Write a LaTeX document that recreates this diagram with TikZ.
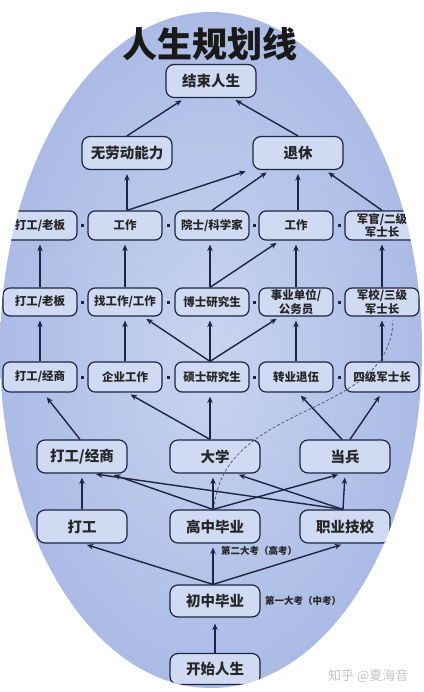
\documentclass[tikz,border=0pt]{standalone}
\usepackage{fontspec}
\newfontfamily\cjk{Noto Sans CJK SC}
\usetikzlibrary{arrows.meta,calc}
\definecolor{navy}{HTML}{1C2543}
\definecolor{boxfill}{HTML}{D0DBF3}
\definecolor{bgin}{HTML}{C8D4F0}
\definecolor{bgout}{HTML}{ABBBE5}
\definecolor{wm}{HTML}{C4C4C4}
\begin{document}
\begin{tikzpicture}[x=1pt,y=-1pt,
  bigbox/.style={draw=navy, line width=1.2pt, rounded corners=8pt, fill=boxfill,
    minimum width=90pt, minimum height=33pt, inner sep=1pt, text=black!85,
    font=\cjk\bfseries\fontsize{14.5}{16}\selectfont},
  smallbox/.style={draw=navy, line width=1.2pt, rounded corners=7pt, fill=boxfill,
    minimum width=74pt, minimum height=29pt, inner sep=1pt, align=center, text=black!85,
    font=\cjk\bfseries\fontsize{11.5}{13.5}\selectfont},
  dotsq/.style={fill=navy, minimum size=3pt, inner sep=0pt},
  arr/.style={-{Stealth[length=6.5pt,width=5.5pt]}, line width=1.4pt, draw=navy, shorten >=4pt},
  lbl/.style={font=\cjk\bfseries\fontsize{9.5}{11}\selectfont, text=black!85, inner sep=0pt, anchor=west}
]
\useasboundingbox (0,0) rectangle (423,692);
\fill[white] (0,0) rectangle (423,692);
\shade[inner color=bgin, outer color=bgout] (211,350) ellipse [x radius=211pt, y radius=338pt];

\begin{scope}
\clip (211,350) ellipse [x radius=211pt, y radius=338pt];
% top
\node[bigbox] (end) at (211,81) {结束人生};
\node[bigbox] (nolab) at (127,153) {无劳动能力};
\node[bigbox] (retire) at (298,153) {退休};
% row 3
\node[smallbox] (a3) at (40,225.5) {打工/老板};
\node[smallbox] (b3) at (125,225.5) {工作};
\node[smallbox] (c3) at (212,225.5) {院士/科学家};
\node[smallbox] (d3) at (296,225.5) {工作};
\node[smallbox] (e3) at (382,225.5) {军官/二级\\军士长};
% row 4
\node[smallbox, minimum height=28pt] (a4) at (40,302) {打工/老板};
\node[smallbox, minimum height=28pt] (b4) at (125,302) {找工作/工作};
\node[smallbox, minimum height=28pt] (c4) at (212,302) {博士研究生};
\node[smallbox, minimum height=28pt] (d4) at (296,302) {事业单位/\\公务员};
\node[smallbox, minimum height=28pt] (e4) at (382,302) {军校/三级\\军士长};
% row 5
\node[smallbox, minimum height=30pt] (a5) at (40,377) {打工/经商};
\node[smallbox, minimum height=30pt] (b5) at (125,377) {企业工作};
\node[smallbox, minimum height=30pt] (c5) at (212,377) {硕士研究生};
\node[smallbox, minimum height=30pt] (d5) at (296,377) {转业退伍};
\node[smallbox, minimum height=30pt] (e5) at (382,377) {四级军士长};
% dots
\foreach \r/\y in {3/225.5,4/302,5/377}{
  \node[dotsq] (p\r a) at (82.5,\y) {};
  \node[dotsq] (p\r b) at (168.5,\y) {};
  \node[dotsq] (p\r c) at (254,\y) {};
  \node[dotsq] (p\r d) at (339,\y) {};
}
% row 6
\node[bigbox] (work6) at (82,456.5) {打工/经商};
\node[bigbox] (uni) at (215,456.5) {大学};
\node[bigbox] (army) at (345,456.5) {当兵};
% row 7
\node[bigbox] (work7) at (82,526.5) {打工};
\node[bigbox] (high) at (215,526.5) {高中毕业};
\node[bigbox] (voc) at (345,526.5) {职业技校};
% row 8, 9
\node[bigbox, minimum height=32pt] (mid) at (215,601) {初中毕业};
\node[bigbox, minimum height=31pt] (start) at (215,669) {开始人生};

% labels
\node[lbl] (l2) at (221,551) {第二大考（高考）};
\node[lbl] (l1) at (265,601) {第一大考（中考）};

% arrows bottom
\draw[arr, shorten >=6pt] (start.north) -- (mid.south);
\draw[arr] ([xshift=-2pt]mid.north) -- ([xshift=1pt]work7.south);
\draw[arr] ([xshift=-2pt]mid.north) -- ([xshift=-2pt]high.south);
\draw[arr] ([xshift=-2pt]mid.north) -- (voc.south);
% row7 -> row6
\draw[arr] (work7.north) -- (work6.south);
\draw[arr] ([xshift=-2pt]high.north) -- ([xshift=28pt]work6.south);
\draw[arr] ([xshift=-2pt]high.north) -- ([xshift=-2pt]uni.south);
\draw[arr] ([xshift=-2pt]high.north) -- ([xshift=-3pt]army.south);
\draw[arr] ([xshift=-2pt]voc.north) -- ([xshift=10pt]work6.south);
\draw[arr] ([xshift=-2pt]voc.north) -- ([xshift=20pt]uni.south);
\draw[arr] ([xshift=-2pt]voc.north) -- (army.south);
% row6 -> row5
\draw[arr, shorten >=6pt] ([xshift=-2pt]work6.north) -- ([xshift=3pt]a5.south);
\draw[arr] ([xshift=-5pt]uni.north) -- ([xshift=2pt]b5.south);
\draw[arr] ([xshift=-5pt]uni.north) -- ([xshift=-2pt]c5.south);
\draw[arr] ([xshift=-3pt]army.north) -- ([xshift=2pt]d5.south);
\draw[arr] ([xshift=5pt]army.north) -- (e5.south);
% row5 -> row4
\draw[arr] (a5.north) -- (a4.south);
\draw[arr] (b5.north) -- (b4.south);
\draw[arr] ([xshift=-2pt]c5.north) -- ([xshift=18pt]b4.south);
\draw[arr] ([xshift=-2pt]c5.north) -- ([xshift=-2pt]c4.south);
\draw[arr] ([xshift=-2pt]c5.north) -- ([xshift=-16pt]d4.south);
\draw[arr] (d5.north) -- (d4.south);
\draw[arr] (e5.north) -- (e4.south);
% row4 -> row3
\draw[arr] (a4.north) -- (a3.south);
\draw[arr] (b4.north) -- (b3.south);
\draw[arr] ([xshift=-2pt]c4.north) -- ([xshift=-2pt]c3.south);
\draw[arr] ([xshift=-2pt]c4.north) -- ([xshift=-16pt]d3.south);
\draw[arr] (d4.north) -- (d3.south);
\draw[arr] (e4.north) -- (e3.south);
% row3 -> row2
\draw[arr] ([xshift=2pt]b3.north) -- (nolab.south);
\draw[arr] ([xshift=2pt]b3.north) -- ([xshift=-3pt]retire.south west);
\draw[arr] (c3.north) -- ([xshift=-28pt]retire.south);
\draw[arr] ([xshift=2pt]d3.north) -- (retire.south);
\draw[arr] (e3.north) -- ([xshift=27pt]retire.south);
% row2 -> row1
\draw[arr] (nolab.north) -- ([xshift=-26pt]end.south);
\draw[arr] (retire.north) -- ([xshift=21pt]end.south);
% dashed curve
\draw[navy!75, line width=0.8pt, dash pattern=on 3pt off 2pt]
  ([xshift=-1pt]high.north) .. controls (222,400) and (390,420) .. ([xshift=11pt,yshift=-4pt]e4.south);
\end{scope}

% title
\node[font=\cjk\bfseries\fontsize{35}{38}\selectfont, text=black!90] (title) at (210,44) {人生规划线};
% watermark
\node[font=\cjk\fontsize{13}{15}\selectfont, text=wm, anchor=west, inner sep=0pt] (wmark) at (328,676) {知乎 @夏海音};
\end{tikzpicture}
\end{document}
